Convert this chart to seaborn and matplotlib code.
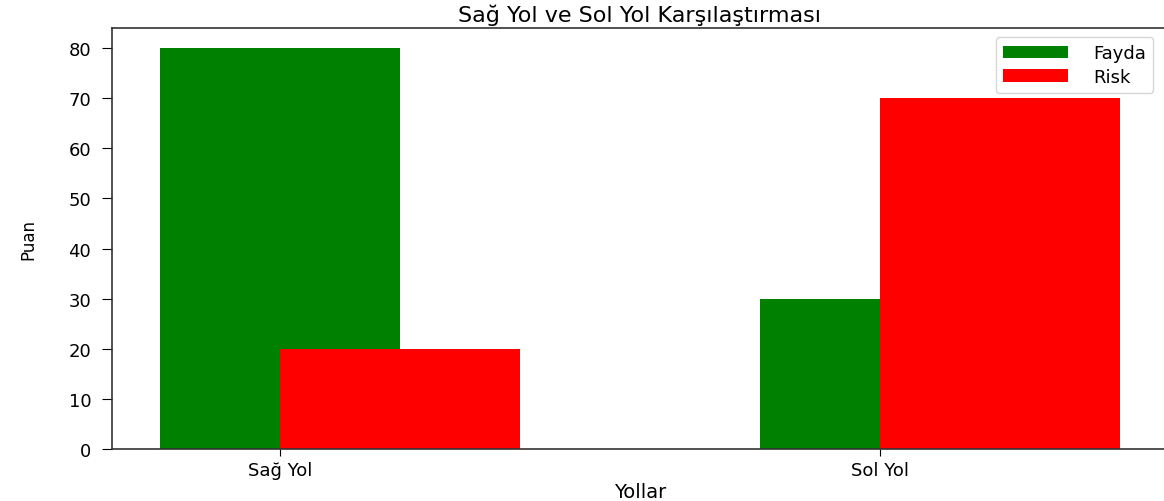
import numpy as np
import pandas as pd
import matplotlib
matplotlib.use("Agg")
import matplotlib.pyplot as plt
import seaborn as sns

# Data
yollar = ["Sağ Yol", "Sol Yol"]
fayda = [80, 30]
risk = [20, 70]

bar_width = 0.4
x = np.arange(len(yollar))

df_fayda = pd.DataFrame({"pos": x, "puan": fayda})
df_risk = pd.DataFrame({"pos": x + bar_width / 2, "puan": risk})

fig, ax = plt.subplots(figsize=(11.64, 5.02), dpi=100)
fig.subplots_adjust(left=0.0962, right=1.0034, bottom=0.1036, top=0.942)

sns.barplot(data=df_fayda, x="pos", y="puan", native_scale=True,
            color="green", saturation=1, width=bar_width, linewidth=0,
            label="Fayda", ax=ax)
sns.barplot(data=df_risk, x="pos", y="puan", native_scale=True,
            color="red", saturation=1, width=bar_width, linewidth=0,
            label="Risk", ax=ax)

ax.set_xticks(x)
ax.set_xticklabels(yollar, fontsize=13)
ax.tick_params(axis="y", labelsize=13, length=7, pad=8)
ax.tick_params(axis="x", length=5)
for spine in ax.spines.values():
    spine.set_color("#333333")
    spine.set_linewidth(1.2)
ax.set_xlim(-0.28, 1.48)
ax.set_ylim(0, 84)
ax.set_xlabel("Yollar", fontsize=14, labelpad=2)
ax.set_ylabel("Puan", fontsize=12, labelpad=22)
ax.set_title("Sağ Yol ve Sol Yol Karşılaştırması", fontsize=16, pad=5)
ax.legend(loc="upper right", bbox_to_anchor=(0.986, 0.979), borderaxespad=0,
          fontsize=13, handlelength=3.6, handletextpad=1.4, labelspacing=0.3)

plt.savefig("out.png", dpi=100)
